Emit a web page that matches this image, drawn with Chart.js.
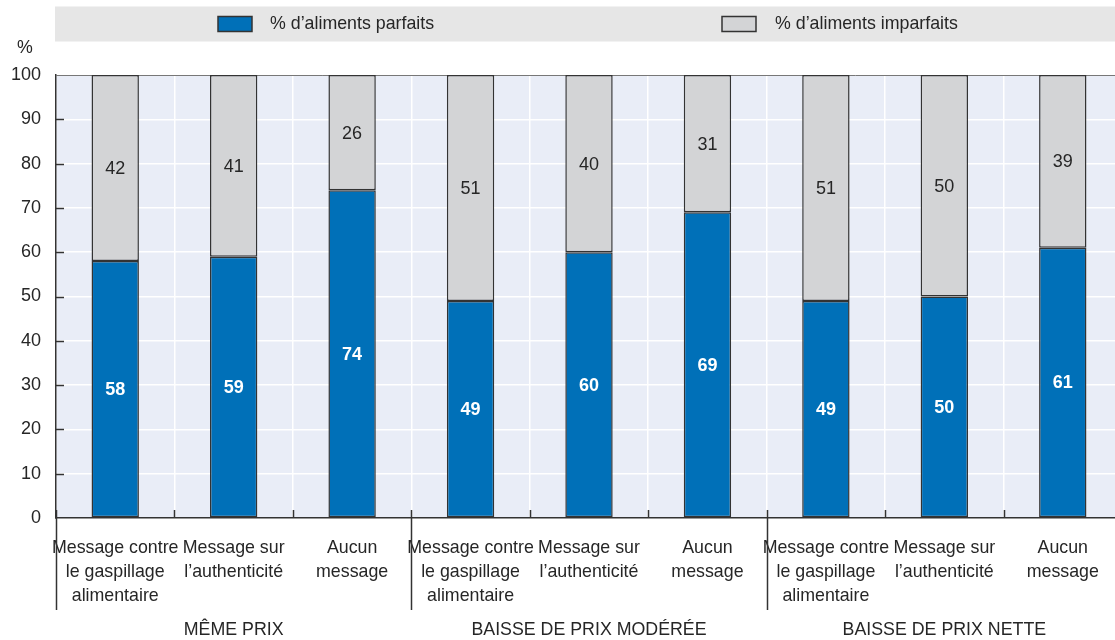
<!DOCTYPE html>
<html lang="fr">
<head>
<meta charset="utf-8">
<title>Aliments parfaits et imparfaits</title>
<script src="https://cdn.jsdelivr.net/npm/chart.js@4.4.1/dist/chart.umd.min.js"></script>
<style>
  html, body { margin: 0; padding: 0; background: #fff; overflow: hidden; }
  #wrap { width: 1124px; height: 640px; }
</style>
</head>
<body>
<div id="wrap"><canvas id="chart" width="1124" height="640"></canvas></div>
<script>
// Scénarios (libellés sur plusieurs lignes)
const categories = [
  ['Message contre', 'le gaspillage', 'alimentaire'],
  ['Message sur', 'l\u2019authenticité'],
  ['Aucun', 'message'],
  ['Message contre', 'le gaspillage', 'alimentaire'],
  ['Message sur', 'l\u2019authenticité'],
  ['Aucun', 'message'],
  ['Message contre', 'le gaspillage', 'alimentaire'],
  ['Message sur', 'l\u2019authenticité'],
  ['Aucun', 'message']
];
// Groupes de prix (3 scénarios chacun)
const groups = ['MÊME PRIX', 'BAISSE DE PRIX MODÉRÉE', 'BAISSE DE PRIX NETTE'];
const groupSize = 3;

const seriesNames = ['% d\u2019aliments parfaits', '% d\u2019aliments imparfaits'];
const parfaits   = [58, 59, 74, 49, 60, 69, 49, 50, 61];
const imparfaits = [42, 41, 26, 51, 40, 31, 51, 50, 39];

const yMin = 0, yMax = 100, yStep = 10;
const yUnit = '%';

const FONT = '"Liberation Sans", Arial, sans-serif';
const FS = 17.8;
const TEXT = '#262626';
const BLUE = '#0070b8';
const GREY = '#d3d4d6';
const EDGE = '#333333';

const decorPlugin = {
  id: 'decor',
  beforeDraw(chart) {
    const { ctx, chartArea: a } = chart;
    ctx.save();
    // fond de la zone de tracé
    ctx.fillStyle = '#e9edf7';
    ctx.fillRect(a.left, a.top, a.right - a.left, a.bottom - a.top);
    // bandeau de légende
    ctx.fillStyle = '#e6e6e6';
    ctx.fillRect(55, 6.5, chart.width - 55, 35);
    const items = [
      { box: 218, text: 270, fill: BLUE },
      { box: 722, text: 775, fill: GREY }
    ];
    ctx.font = FS + 'px ' + FONT;
    ctx.textBaseline = 'middle';
    ctx.textAlign = 'left';
    items.forEach((it, i) => {
      ctx.fillStyle = it.fill;
      ctx.fillRect(it.box, 16.5, 34, 15);
      ctx.strokeStyle = EDGE;
      ctx.lineWidth = 1.5;
      ctx.strokeRect(it.box, 16.5, 34, 15);
      ctx.fillStyle = TEXT;
      ctx.fillText(chart.data.datasets[i].label, it.text, 24.5);
    });
    // unité de l'axe vertical
    ctx.textAlign = 'center';
    ctx.fillText(yUnit, 25, 48);
    ctx.restore();
  },
  afterDatasetsDraw(chart) {
    const { ctx, chartArea: a, scales } = chart;
    const x = scales.x, y = scales.y;
    ctx.save();
    // étiquettes de valeur au centre de chaque segment
    ctx.textAlign = 'center';
    ctx.textBaseline = 'middle';
    chart.data.datasets.forEach((ds, di) => {
      const meta = chart.getDatasetMeta(di);
      ctx.font = (di === 0 ? 'bold ' : '') + '18px ' + FONT;
      meta.data.forEach((bar, i) => {
        const p = bar.getProps(['x', 'y', 'base'], true);
        ctx.fillStyle = di === 0 ? '#ffffff' : TEXT;
        ctx.fillText(String(ds.data[i]), p.x, (p.y + p.base) / 2 + 1);
      });
    });
    // petites graduations intérieures de l'axe vertical
    ctx.strokeStyle = EDGE;
    ctx.lineWidth = 1.5;
    for (let v = yMin + yStep; v < yMax; v += yStep) {
      const py = Math.round(y.getPixelForValue(v)) + 0.5;
      ctx.beginPath();
      ctx.moveTo(a.left, py);
      ctx.lineTo(a.left + 8, py);
      ctx.stroke();
    }
    // graduations et séparateurs de groupes sur l'axe horizontal
    const n = categories.length;
    for (let i = 0; i <= n; i++) {
      let px;
      if (i === 0) px = a.left;
      else if (i === n) px = a.right;
      else px = (x.getPixelForValue(i - 1) + x.getPixelForValue(i)) / 2;
      px = Math.round(px) + 0.5;
      ctx.beginPath();
      if (i % groupSize === 0) {
        ctx.moveTo(px, a.bottom - 8);
        ctx.lineTo(px, 610);
      } else {
        ctx.moveTo(px, a.bottom - 8);
        ctx.lineTo(px, a.bottom);
      }
      ctx.stroke();
    }
    // libellés des groupes
    ctx.fillStyle = TEXT;
    ctx.font = FS + 'px ' + FONT;
    groups.forEach((g, gi) => {
      const first = x.getPixelForValue(gi * groupSize);
      const last = x.getPixelForValue(gi * groupSize + groupSize - 1);
      ctx.fillText(g, (first + last) / 2, 630);
    });
    ctx.restore();
  }
};

new Chart(document.getElementById('chart'), {
  type: 'bar',
  data: {
    labels: categories,
    datasets: [
      {
        label: seriesNames[0],
        data: parfaits,
        backgroundColor: BLUE,
        borderColor: EDGE,
        borderWidth: 1.5,
        borderSkipped: false
      },
      {
        label: seriesNames[1],
        data: imparfaits,
        backgroundColor: GREY,
        borderColor: EDGE,
        borderWidth: 1.5,
        borderSkipped: false
      }
    ]
  },
  options: {
    responsive: false,
    devicePixelRatio: 1,
    animation: false,
    layout: { padding: { top: 75, right: 2, left: 0, bottom: 0 } },
    datasets: { bar: { barPercentage: 0.4, categoryPercentage: 1 } },
    plugins: {
      legend: { display: false },
      tooltip: { enabled: false }
    },
    scales: {
      x: {
        stacked: true,
        afterFit(s) { s.height = 122; },
        grid: {
          color: '#ffffff',
          lineWidth: 1.5,
          drawTicks: false,
          offset: true
        },
        border: { color: EDGE, width: 1.5 },
        ticks: {
          autoSkip: false,
          maxRotation: 0,
          minRotation: 0,
          padding: 18.5,
          color: TEXT,
          font: { family: FONT, size: FS, lineHeight: 24 / FS }
        }
      },
      y: {
        stacked: true,
        min: yMin,
        max: yMax,
        afterFit(s) { s.width = 56; },
        grid: {
          color: (c) => c.tick && c.tick.value === yMax ? '#777777' : '#ffffff',
          lineWidth: (c) => c.tick && c.tick.value === yMax ? 1 : 1.5,
          drawTicks: false
        },
        border: { color: EDGE, width: 1.5 },
        ticks: {
          stepSize: yStep,
          padding: 15,
          color: TEXT,
          font: { family: FONT, size: 18 }
        }
      }
    }
  },
  plugins: [decorPlugin]
});
</script>
</body>
</html>
